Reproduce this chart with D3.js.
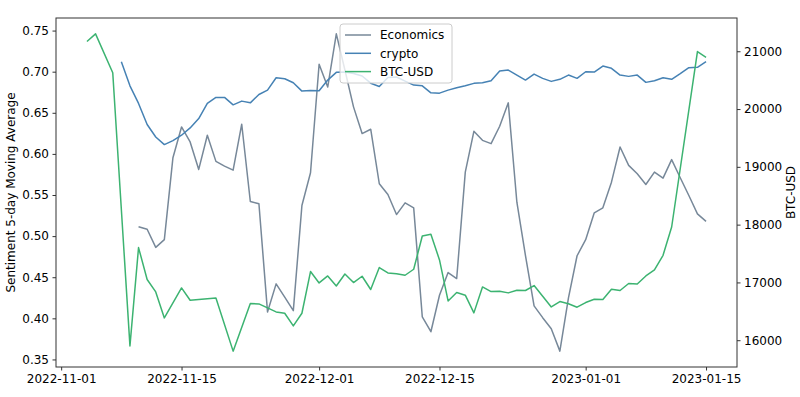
<!DOCTYPE html>
<html>
<head>
    <meta charset="utf-8">
    <title>Sentiment vs BTC-USD</title>
    <script src="https://d3js.org/d3.v7.min.js"></script>
    <style>
        body { margin: 0; background: #fff; }
        svg { display: block; }
        text { font-family: "DejaVu Sans", sans-serif; fill: #000; }
        .axis text { font-size: 12px; }
        .axis line { stroke: #333; }
        .axis path { display: none; }
        .series { fill: none; stroke-width: 1.5px; stroke-linejoin: round; }
    </style>
</head>
<body>
    <svg></svg>
    <script>
        // Datos
        const econStart = "2022-11-10";
        const econValues = [
            0.5115, 0.5083, 0.4863, 0.4957, 0.5954, 0.6328, 0.6145, 0.5811, 0.6227, 0.5909,
            0.5852, 0.5803, 0.6361, 0.5421, 0.5393, 0.4078, 0.4419, 0.4257, 0.4093, 0.5372,
            0.5771, 0.7090, 0.6813, 0.7460, 0.7020, 0.6572, 0.6247, 0.6300, 0.5637, 0.5506,
            0.5262, 0.5405, 0.5344, 0.4017, 0.3837, 0.4281, 0.4557, 0.4484, 0.5778, 0.6275,
            0.6165, 0.6125, 0.6336, 0.6621, 0.5412, 0.4762, 0.4151, 0.4008, 0.3874, 0.3601,
            0.4250, 0.4761, 0.4957, 0.5283, 0.5344, 0.5656, 0.6084, 0.5860, 0.5759, 0.5628,
            0.5778, 0.5705, 0.5930, 0.5710, 0.5494, 0.5270, 0.5180
        ];

        const cryptoStart = "2022-11-08";
        const cryptoValues = [
            0.7121, 0.6828, 0.6614, 0.6357, 0.6206, 0.6113, 0.6162, 0.6227, 0.6316, 0.6430,
            0.6614, 0.6687, 0.6687, 0.6597, 0.6642, 0.6621, 0.6723, 0.6776, 0.6926, 0.6914,
            0.6865, 0.6764, 0.6772, 0.6767, 0.6898, 0.6992, 0.6996, 0.6977, 0.6947, 0.6860,
            0.6820, 0.6929, 0.6935, 0.6886, 0.6837, 0.6828, 0.6743, 0.6739, 0.6776, 0.6804,
            0.6828, 0.6858, 0.6865, 0.6890, 0.7008, 0.7020, 0.6959, 0.6898, 0.6971, 0.6919,
            0.6882, 0.6907, 0.6959, 0.6919, 0.6999, 0.6996, 0.7069, 0.7041, 0.6959, 0.6943,
            0.6959, 0.6870, 0.6890, 0.6926, 0.6907, 0.6975, 0.7048, 0.7053, 0.7121
        ];

        const btcDates = [
            "2022-11-04", "2022-11-05", "2022-11-07", "2022-11-09", "2022-11-10", "2022-11-11",
            "2022-11-12", "2022-11-13", "2022-11-15", "2022-11-16", "2022-11-19", "2022-11-21",
            "2022-11-23", "2022-11-24", "2022-11-26", "2022-11-27", "2022-11-28", "2022-11-29",
            "2022-11-30", "2022-12-01", "2022-12-02", "2022-12-03", "2022-12-04", "2022-12-05",
            "2022-12-06", "2022-12-07", "2022-12-08", "2022-12-09", "2022-12-10", "2022-12-11",
            "2022-12-12", "2022-12-13", "2022-12-14", "2022-12-15", "2022-12-16", "2022-12-17",
            "2022-12-18", "2022-12-19", "2022-12-20", "2022-12-21", "2022-12-22", "2022-12-23",
            "2022-12-24", "2022-12-25", "2022-12-26", "2022-12-27", "2022-12-28", "2022-12-29",
            "2022-12-30", "2022-12-31", "2023-01-01", "2023-01-02", "2023-01-03", "2023-01-04",
            "2023-01-05", "2023-01-06", "2023-01-07", "2023-01-08", "2023-01-09", "2023-01-10",
            "2023-01-11", "2023-01-14", "2023-01-15"
        ];
        const btcValues = [
            21168, 21301, 20627, 15902, 17603, 17050,
            16836, 16386, 16905, 16692, 16732, 15811,
            16635, 16628, 16490, 16467, 16248, 16467,
            17188, 16991, 17112, 16939, 17146, 16998,
            17107, 16877, 17257, 17164, 17150, 17124,
            17228, 17803, 17833, 17389, 16680, 16825,
            16779, 16473, 16922, 16842, 16848, 16819,
            16865, 16860, 16946, 16761, 16576, 16669,
            16630, 16571, 16652, 16710, 16704, 16882,
            16860, 16981, 16974, 17112, 17216, 17470,
            17959, 20995, 20896
        ];

        const sentimentTicks = [0.35, 0.40, 0.45, 0.50, 0.55, 0.60, 0.65, 0.70, 0.75];
        const btcTicks = [16000, 17000, 18000, 19000, 20000, 21000];
        const dateTicks = ["2022-11-01", "2022-11-15", "2022-12-01", "2022-12-15", "2023-01-01", "2023-01-15"];

        const seriesNames = ["Economics", "crypto", "BTC-USD"];
        const colors = ["#778899", "#4682b4", "#3cb371"];

        // Configuración
        const width = 800, height = 397;
        const margin = { top: 18, right: 63, bottom: 30, left: 56 };
        const innerW = width - margin.left - margin.right;
        const innerH = height - margin.top - margin.bottom;

        const parse = d3.utcParse("%Y-%m-%d");
        const daily = (start, values) => values.map((v, i) => ({ date: d3.utcDay.offset(parse(start), i), value: v }));

        const econ = daily(econStart, econValues);
        const crypto = daily(cryptoStart, cryptoValues);
        const btc = btcDates.map((d, i) => ({ date: parse(d), value: btcValues[i] }));

        // Escalas con margen del 5% (como matplotlib)
        const pad = (lo, hi) => { const m = (hi - lo) * 0.05; return [lo - m, hi + m]; };

        const allDates = [...econ, ...crypto, ...btc].map(d => d.date);
        const [dMin, dMax] = d3.extent(allDates);
        const x = d3.scaleUtc()
            .domain(pad(+dMin, +dMax).map(t => new Date(t)))
            .range([0, innerW]);

        const sentVals = [...econValues, ...cryptoValues];
        const y = d3.scaleLinear()
            .domain(pad(d3.min(sentVals), d3.max(sentVals)))
            .range([innerH, 0]);

        const y2 = d3.scaleLinear()
            .domain(pad(d3.min(btcValues), d3.max(btcValues)))
            .range([innerH, 0]);

        const svg = d3.select("svg")
            .attr("width", width)
            .attr("height", height);

        const g = svg.append("g")
            .attr("transform", `translate(${margin.left},${margin.top})`);

        // Líneas
        const line = d3.line().x(d => x(d.date)).y(d => y(d.value));
        const line2 = d3.line().x(d => x(d.date)).y(d => y2(d.value));

        g.append("path").datum(econ).attr("class", "series").attr("stroke", colors[0]).attr("d", line);
        g.append("path").datum(crypto).attr("class", "series").attr("stroke", colors[1]).attr("d", line);
        g.append("path").datum(btc).attr("class", "series").attr("stroke", colors[2]).attr("d", line2);

        // Ejes
        g.append("g")
            .attr("class", "axis")
            .call(d3.axisLeft(y).tickValues(sentimentTicks).tickFormat(d3.format(".2f")).tickSize(3.5).tickPadding(3.5));

        g.append("g")
            .attr("class", "axis")
            .attr("transform", `translate(${innerW},0)`)
            .call(d3.axisRight(y2).tickValues(btcTicks).tickFormat(d3.format("d")).tickSize(3.5).tickPadding(3.5));

        g.append("g")
            .attr("class", "axis")
            .attr("transform", `translate(0,${innerH})`)
            .call(d3.axisBottom(x).tickValues(dateTicks.map(parse)).tickFormat(d3.utcFormat("%Y-%m-%d")).tickSize(3.5).tickPadding(3.5));

        // Marco
        g.append("rect")
            .attr("width", innerW)
            .attr("height", innerH)
            .attr("fill", "none")
            .attr("stroke", "#333")
            .attr("stroke-width", 1);

        // Títulos de ejes
        svg.append("text")
            .attr("transform", `translate(15,${margin.top + innerH / 2}) rotate(-90)`)
            .attr("text-anchor", "middle")
            .style("font-size", "12px")
            .text("Sentiment 5-day Moving Average");

        svg.append("text")
            .attr("transform", `translate(795,${margin.top + innerH / 2}) rotate(-90)`)
            .attr("text-anchor", "middle")
            .style("font-size", "12px")
            .text("BTC-USD");

        // Leyenda
        const legend = svg.append("g").attr("transform", "translate(340,24)");
        legend.append("rect")
            .attr("width", 112)
            .attr("height", 59)
            .attr("rx", 3)
            .attr("fill", "#fff")
            .attr("fill-opacity", 0.8)
            .attr("stroke", "#ccc")
            .attr("stroke-width", 1);

        const item = legend.selectAll("g.item")
            .data(seriesNames)
            .join("g")
            .attr("class", "item")
            .attr("transform", (d, i) => `translate(0,${11 + i * 18.3})`);

        item.append("line")
            .attr("x1", 5).attr("x2", 31)
            .attr("stroke", (d, i) => colors[i])
            .attr("stroke-width", 1.5);

        item.append("text")
            .attr("x", 40)
            .attr("dy", "0.35em")
            .style("font-size", "12px")
            .text(d => d);
    </script>
</body>
</html>
